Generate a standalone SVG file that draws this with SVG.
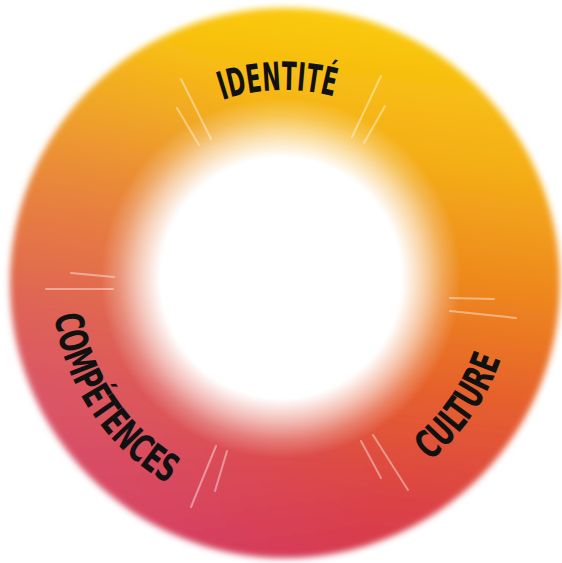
<svg xmlns="http://www.w3.org/2000/svg" width="562" height="563" viewBox="0 0 562 563">
<defs>
<linearGradient id="base" gradientUnits="userSpaceOnUse" x1="320" y1="5" x2="250" y2="560">
<stop offset="0" stop-color="#FACB0C"/>
<stop offset="0.25" stop-color="#F4AE18"/>
<stop offset="0.5" stop-color="#EC8020"/>
<stop offset="0.65" stop-color="#E6622C"/>
<stop offset="0.85" stop-color="#DC4444"/>
<stop offset="1" stop-color="#D63652"/>
</linearGradient>
<radialGradient id="pink" gradientUnits="userSpaceOnUse" cx="20" cy="390" r="380">
<stop offset="0" stop-color="#D45A90" stop-opacity="0.55"/>
<stop offset="0.5" stop-color="#D45A90" stop-opacity="0.3"/>
<stop offset="1" stop-color="#D45A90" stop-opacity="0"/>
</radialGradient>
<radialGradient id="hole" gradientUnits="userSpaceOnUse" cx="281" cy="278" r="180">
<stop offset="0" stop-color="#fff" stop-opacity="1"/>
<stop offset="0.67" stop-color="#fff" stop-opacity="1"/>
<stop offset="0.8" stop-color="#fff" stop-opacity="0.6"/>
<stop offset="0.9" stop-color="#fff" stop-opacity="0.25"/>
<stop offset="1" stop-color="#fff" stop-opacity="0"/>
</radialGradient>
<filter id="soft" x="-10%" y="-10%" width="120%" height="120%">
<feGaussianBlur stdDeviation="3"/>
</filter>
<path id="pIdent" d="M155.4,139.1 A193,193 0 0 1 403.4,131.3"/>
<path id="pCult" d="M343.5,505.2 A230,230 0 0 0 513.1,263"/>
<path id="pComp" d="M61,219.1 A232,232 0 0 0 259.8,513.7"/>
</defs>
<style>
.lbl{font-family:"DejaVu Sans Condensed","DejaVu Sans","Liberation Sans",sans-serif;font-weight:bold;font-size:39px;fill:#111;}
.sep line{stroke:#fff;stroke-opacity:0.42;stroke-width:2;stroke-linecap:round;}
</style>
<rect width="562" height="563" fill="#fff"/>
<g id="ring" filter="url(#soft)">
<circle cx="285" cy="283" r="275" fill="url(#base)"/>
<circle cx="285" cy="283" r="275" fill="url(#pink)"/>
</g>
<circle id="hole-center" cx="281" cy="278" r="180" fill="url(#hole)"/>
<g id="separators" class="sep">
<line x1="181" y1="79" x2="211" y2="139"/>
<line x1="177" y1="108" x2="199" y2="145"/>
<line x1="381" y1="76" x2="352" y2="137"/>
<line x1="385" y1="106" x2="364" y2="143"/>
<line x1="71" y1="273" x2="114" y2="277"/>
<line x1="46" y1="289" x2="113" y2="289"/>
<line x1="450" y1="298" x2="494" y2="299"/>
<line x1="450" y1="311" x2="516" y2="318"/>
<line x1="361" y1="441" x2="381" y2="478"/>
<line x1="373" y1="435" x2="408" y2="490"/>
<line x1="227" y1="451" x2="215" y2="491"/>
<line x1="216" y1="446" x2="191" y2="507"/>
</g>
<g id="identite">
<text class="lbl"><textPath href="#pIdent" startOffset="50%" text-anchor="middle" textLength="113" lengthAdjust="spacingAndGlyphs">IDENTITÉ</textPath></text>
</g>
<g id="culture">
<text class="lbl"><textPath href="#pCult" startOffset="50%" text-anchor="middle" textLength="126" lengthAdjust="spacingAndGlyphs">CULTURE</textPath></text>
</g>
<g id="competences">
<text class="lbl"><textPath href="#pComp" startOffset="50%" text-anchor="middle" textLength="210" lengthAdjust="spacingAndGlyphs">COMPÉTENCES</textPath></text>
</g>
</svg>
